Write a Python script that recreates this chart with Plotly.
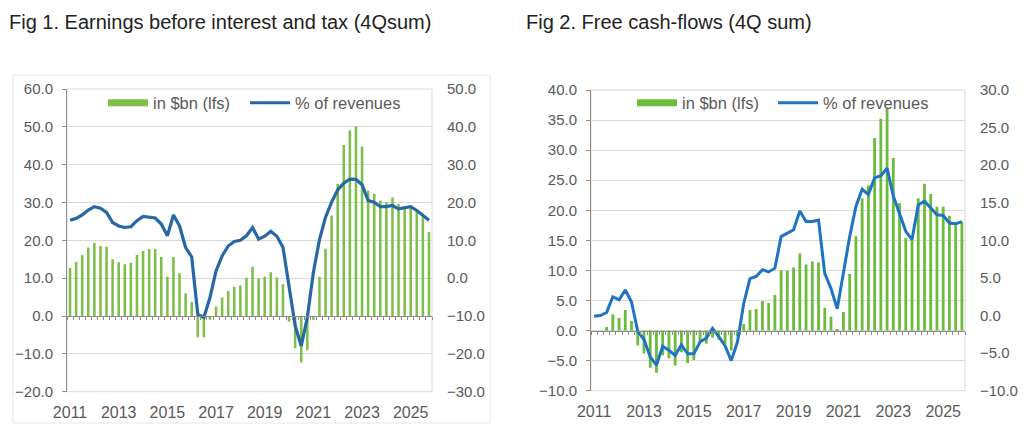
import plotly.graph_objects as go

# ---------------- data ----------------
quarters = [f"{y}Q{q}" for y in range(2011, 2026) for q in range(1, 5)]
year_ticks = ["2011", "2013", "2015", "2017", "2019", "2021", "2023", "2025"]

# Fig 1: EBIT, 4Q sum, $bn (left axis) and % of revenues (right axis)
ebit_bn = [12.7, 14.3, 16.1, 18.1, 19.3, 18.5, 18.3, 15.0,
           14.2, 13.7, 14.1, 16.1, 17.2, 17.7, 17.7, 15.6,
           10.4, 15.6, 11.3, 6.0, 3.7, -5.6, -5.6, -1.0,
           2.5, 4.9, 6.6, 7.7, 8.1, 10.1, 13.0, 10.0,
           10.4, 11.6, 10.2, 8.4, -1.5, -8.5, -12.3, -9.0,
           -1.0, 10.4, 17.8, 26.6, 34.9, 45.2, 49.1, 50.1,
           44.8, 33.2, 32.3, 30.5, 30.1, 31.4, 29.6, 28.9,
           28.9, 27.9, 26.1, 22.2]
ebit_pct = [15.3, 15.8, 16.7, 18.0, 18.9, 18.5, 17.4, 14.7,
            13.8, 13.4, 13.6, 15.2, 16.3, 16.0, 15.9, 14.3,
            11.2, 16.7, 13.8, 8.1, 5.6, -9.6, -10.4, -5.1,
            1.9, 5.9, 8.5, 9.7, 10.0, 11.2, 13.4, 10.3,
            11.1, 12.4, 11.1, 8.2, -2.8, -12.5, -17.9, -10.4,
            1.5, 10.2, 16.1, 20.1, 23.3, 25.1, 26.2, 26.1,
            24.7, 20.5, 20.1, 18.9, 18.9, 19.2, 18.3, 18.5,
            18.9, 17.9, 16.6, 15.3]

# Fig 2: Free cash-flows, 4Q sum, $bn (left axis) and % of revenues (right axis)
fcf_bn = [0.0, 0.0, 0.6, 2.7, 2.1, 3.4, 1.6, -2.5,
          -3.8, -6.2, -7.0, -4.1, -4.6, -5.8, -3.6, -5.4,
          -4.9, -1.8, -2.2, -1.2, -1.5, -2.2, -3.3, -1.0,
          1.1, 3.4, 3.6, 4.9, 4.6, 5.9, 10.0, 10.0,
          10.5, 12.8, 11.0, 11.5, 11.3, 3.8, 2.3, 0.2,
          3.1, 9.4, 15.7, 22.0, 24.1, 32.0, 35.2, 37.1,
          28.7, 21.2, 15.4, 15.1, 22.0, 24.4, 22.7, 20.6,
          20.6, 19.1, 18.1, 18.1]
fcf_pct = [-0.1, 0.0, 0.4, 2.5, 2.1, 3.4, 1.8, -2.1,
           -3.2, -5.5, -6.6, -4.1, -4.6, -5.3, -3.9, -5.1,
           -5.1, -3.5, -3.0, -1.7, -2.8, -4.0, -6.0, -3.5,
           1.6, 4.9, 5.2, 6.1, 5.8, 6.3, 10.5, 11.0,
           11.4, 13.9, 12.5, 12.5, 12.7, 5.6, 3.6, 0.9,
           5.6, 10.5, 14.5, 16.8, 16.1, 18.3, 18.6, 19.6,
           15.9, 13.4, 11.2, 10.1, 14.7, 15.2, 14.3, 13.4,
           13.3, 12.3, 12.2, 12.5]

# ---------------- styling ----------------
W, H = 1024, 437
FONT = "Arial, 'Liberation Sans', sans-serif"
GRAY_TXT = "#595959"
GRID = "#D9D9D9"
AXIS = "#8C8C8C"
GREEN1 = "#7DBF4A"
GREEN2 = "#6CBB3C"
BLUE1 = "#2667A6"
BLUE2 = "#1E74C2"

pos = list(range(len(quarters)))
year_pos = [quarters.index(f"{y}Q1") for y in year_ticks]
bounds = [p - 0.5 for p in pos] + [pos[-1] + 0.5]
xr = [-0.5, len(quarters) - 0.5]


def px_x(v):
    return v / W


def px_y(v):
    return 1 - v / H


f1x = [px_x(67), px_x(432)]
f1y = [px_y(391.7), px_y(89)]
f2x = [px_x(591), px_x(965)]
f2y = [px_y(390.7), px_y(90)]

f1_left = [-20, 60]
f1_right = [-30, 50]
f2_left = [-10, 40]
f2_right = [-10, 30]


def zero_pos(dom, rng):
    return dom[0] + (0 - rng[0]) / (rng[1] - rng[0]) * (dom[1] - dom[0])


fig = go.Figure()

# ---- Fig 1 ----
fig.add_trace(go.Bar(x=pos, y=ebit_bn, xaxis="x", yaxis="y", marker_color=GREEN1,
                     width=0.42, showlegend=False, hovertext=quarters, name="in $bn (lfs)"))
fig.add_trace(go.Scatter(x=[None], y=[None], xaxis="x", yaxis="y", mode="lines",
                         line=dict(color=GREEN1, width=7), name="in $bn (lfs)", legend="legend"))
fig.add_trace(go.Scatter(x=pos, y=ebit_pct, xaxis="x", yaxis="y2", mode="lines",
                         line=dict(color=BLUE1, width=3.2), name="% of revenues", legend="legend2",
                         hovertext=quarters))
fig.add_trace(go.Scatter(x=[xr[0]], y=[0], xaxis="x3", yaxis="y", mode="markers",
                         marker=dict(opacity=0), showlegend=False, hoverinfo="skip"))

# ---- Fig 2 ----
fig.add_trace(go.Bar(x=pos, y=fcf_bn, xaxis="x2", yaxis="y3", marker_color=GREEN2,
                     width=0.45, showlegend=False, hovertext=quarters, name="in $bn (lfs)"))
fig.add_trace(go.Scatter(x=[None], y=[None], xaxis="x2", yaxis="y3", mode="lines",
                         line=dict(color=GREEN2, width=7), name="in $bn (lfs)", legend="legend3"))
fig.add_trace(go.Scatter(x=pos, y=fcf_pct, xaxis="x2", yaxis="y4", mode="lines",
                         line=dict(color=BLUE2, width=3), name="% of revenues", legend="legend4",
                         hovertext=quarters))
fig.add_trace(go.Scatter(x=[xr[0]], y=[0], xaxis="x4", yaxis="y3", mode="markers",
                         marker=dict(opacity=0), showlegend=False, hoverinfo="skip"))

tickfont_y = dict(family=FONT, size=15, color=GRAY_TXT)
tickfont_x = dict(family=FONT, size=16, color=GRAY_TXT)


def main_x(dom, anchor):
    return dict(domain=dom, anchor=anchor, range=xr, tickmode="array", tickvals=year_pos,
                ticktext=year_ticks, showgrid=False, zeroline=False, showline=False,
                ticks="outside", ticklen=6, tickcolor="rgba(0,0,0,0)", tickfont=tickfont_x,
                automargin=False)


def zero_x(over, dom, ypos):
    return dict(overlaying=over, anchor="free", position=ypos, range=xr, tickmode="array",
                tickvals=bounds, showticklabels=False, ticks="outside", ticklen=3,
                tickcolor=AXIS, showline=True, linecolor=AXIS, linewidth=1,
                showgrid=False, zeroline=False, automargin=False)


def left_y(dom, anchor, rng, dt):
    return dict(domain=dom, anchor=anchor, range=rng, dtick=dt, tick0=0, tickformat=".1f",
                showgrid=True, gridcolor=GRID, gridwidth=1, zeroline=False, showline=True,
                linecolor=AXIS, linewidth=1, ticks="outside", ticklen=4, tickcolor=AXIS,
                tickfont=tickfont_y, ticklabelstandoff=6, automargin=False)


def right_y(over, anchor, rng, dt):
    return dict(overlaying=over, anchor=anchor, side="right", range=rng, dtick=dt, tick0=0,
                tickformat=".1f", showgrid=False, zeroline=False, showline=False, ticks="",
                tickfont=tickfont_y, ticklabelstandoff=14, automargin=False)


def legend_at(xpx, ypx):
    return dict(orientation="h", xanchor="left", yanchor="middle", x=px_x(xpx), y=px_y(ypx),
                bgcolor="rgba(0,0,0,0)", itemwidth=40,
                font=dict(family=FONT, size=16.5, color=GRAY_TXT))


fig.update_layout(
    width=W, height=H, template="none",
    margin=dict(l=0, r=0, t=0, b=0),
    paper_bgcolor="white", plot_bgcolor="white",
    font=dict(family=FONT, color=GRAY_TXT),
    xaxis=main_x(f1x, "y"),
    xaxis3=zero_x("x", f1x, zero_pos(f1y, f1_left)),
    yaxis=left_y(f1y, "x", f1_left, 10),
    yaxis2=right_y("y", "x", f1_right, 10),
    xaxis2=main_x(f2x, "y3"),
    xaxis4=zero_x("x2", f2x, zero_pos(f2y, f2_left)),
    yaxis3=left_y(f2y, "x2", f2_left, 5),
    yaxis4=right_y("y3", "x2", f2_right, 5),
    legend=legend_at(103, 103),
    legend2=legend_at(245, 103),
    legend3=legend_at(632, 103),
    legend4=legend_at(773, 103),
    showlegend=True,
    barmode="overlay",
    shapes=[
        dict(type="rect", xref="x domain", yref="y domain", x0=0, x1=1, y0=0, y1=1,
             line=dict(color=GRID, width=1), layer="below"),
        dict(type="rect", xref="x2 domain", yref="y3 domain", x0=0, x1=1, y0=0, y1=1,
             line=dict(color=GRID, width=1), layer="below"),
        dict(type="rect", xref="paper", yref="paper", x0=px_x(13), x1=px_x(490),
             y0=px_y(423), y1=px_y(75), line=dict(color="#E6E6E6", width=1), layer="below"),
    ],
    annotations=[
        dict(text="Fig 1. Earnings before interest and tax (4Qsum)", xref="paper", yref="paper",
             x=px_x(7), y=px_y(22), xanchor="left", yanchor="middle", showarrow=False,
             font=dict(family=FONT, size=20, color="#222222")),
        dict(text="Fig 2. Free cash-flows (4Q sum)", xref="paper", yref="paper",
             x=px_x(524), y=px_y(22), xanchor="left", yanchor="middle", showarrow=False,
             font=dict(family=FONT, size=20, color="#222222")),
    ],
)

fig.write_html("out.html")
